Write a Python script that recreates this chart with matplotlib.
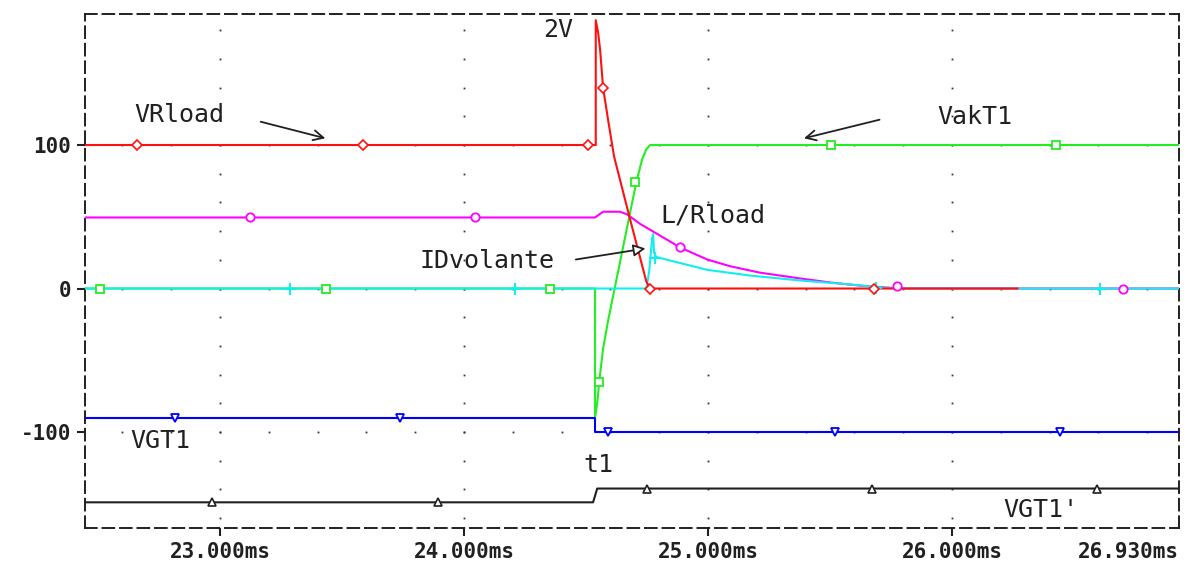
import numpy as np
import matplotlib
matplotlib.use('Agg')
import matplotlib.pyplot as plt

# ---- data (tempo em ms, valores em V / A) ----
x_lim = [22.447, 26.93]
y_lim = [-166.9, 191.3]

# VRload (vermelho)
vr_t = [22.447, 24.540, 24.540, 24.550, 24.558, 24.570, 24.591, 24.615, 24.681, 24.747, 24.763, 26.268]
vr_v = [100, 100, 187, 178, 166, 140, 117, 92, 48, 5, 0, 0]
vr_mk_t = [22.660, 23.586, 24.509, 24.570, 24.763, 25.681]
vr_mk_v = [100, 100, 100, 140, 0, 0]

# VakT1 (verde)
vak_t = [22.447, 24.537, 24.537, 24.546, 24.554, 24.570, 24.591, 24.706, 24.730, 24.747, 24.763, 26.93]
vak_v = [0, 0, -90, -80, -65, -42, -22, 74, 90, 97, 100, 100]
vak_mk_t = [22.508, 23.435, 24.353, 24.554, 24.702, 25.505, 26.424]
vak_mk_v = [0, 0, 0, -65, 74, 100, 100]

# L/Rload (magenta)
lr_t = [22.447, 24.537, 24.570, 24.640, 24.669, 24.722, 24.775, 24.886, 24.997, 25.091, 25.214, 25.378, 25.501, 25.624, 25.788, 26.93]
lr_v = [49.5, 49.5, 53.5, 53.5, 51.6, 45, 39.7, 28.6, 20.2, 15.5, 11, 7, 4.2, 2.0, 0, 0]
lr_mk_t = [23.123, 24.046, 24.886, 25.776, 26.702]
lr_mk_v = [49.5, 49.5, 28.6, 1.5, 0]

# IDvolante (ciano)
id_t = [22.447, 24.747, 24.759, 24.771, 24.775, 24.779, 24.788, 24.833, 24.997, 25.173, 25.378, 25.583, 25.706, 25.768, 26.93]
id_v = [0, 0, 12, 35, 38, 25, 22, 20, 13, 9, 5.6, 2.8, 0.8, 0, 0]
id_mk_t = [23.287, 24.209, 24.783, 25.690, 26.608]
id_mk_v = [0, 0, 21.6, 0.5, 0]

# VGT1 (azul)
vgt_t = [22.447, 24.537, 24.537, 26.93]
vgt_v = [-90.2, -90.2, -100, -100]
vgt_mk_t = [22.815, 23.738, 24.591, 25.522, 26.444]
vgt_mk_v = [-90.2, -90.2, -100, -100, -100]

# VGT1' (preto)
vgt2_t = [22.447, 24.529, 24.546, 26.93]
vgt2_v = [-149, -149, -139.4, -139.4]
vgt2_mk_t = [22.967, 23.894, 24.751, 25.673, 26.596]
vgt2_mk_v = [-149, -149, -139.4, -139.4, -139.4]

x_ticks = [23, 24, 25, 26]
x_tick_labels = ['23.000ms', '24.000ms', '25.000ms', '26.000ms']
y_ticks = [100, 0, -100]
y_tick_labels = ['100', '0', '-100']

RED = '#ff1010'
GREEN = '#22ee22'
MAGENTA = '#ff00ff'
CYAN = '#11eeee'
BLUE = '#0000ff'
BLACK = '#202020'

fig = plt.figure(figsize=(11.86, 5.65), dpi=100)
ax = fig.add_axes([85 / 1186, 37 / 565, 1094 / 1186, 514 / 565])
ax.set_xlim(x_lim)
ax.set_ylim(y_lim)

# grade pontilhada (pontos)
for t in x_ticks:
    gy = np.arange(-160, 181, 20)
    ax.plot([t] * len(gy), gy, ls='none', marker='s', ms=1.3, color='#333333', mew=0, zorder=1)
for v in y_ticks:
    gx = np.arange(22.6, 26.85, 0.2)
    ax.plot(gx, [v] * len(gx), ls='none', marker='s', ms=1.3, color='#333333', mew=0, zorder=1)

lw = 1.5
ms = 6
# curvas (ordem de desenho igual ao original)
ax.plot(lr_t, lr_v, color=MAGENTA, lw=lw, zorder=3)
ax.plot(vak_t, vak_v, color=GREEN, lw=lw, zorder=3)
ax.plot(id_t, id_v, color=CYAN, lw=lw, zorder=3)
ax.plot(vr_t, vr_v, color=RED, lw=lw, zorder=3)
ax.plot(vgt_t, vgt_v, color=BLUE, lw=lw, zorder=3)
ax.plot(vgt2_t, vgt2_v, color=BLACK, lw=lw, zorder=3)

# marcadores
ax.plot(lr_mk_t, lr_mk_v, ls='none', marker='o', ms=ms, mfc='white', mec=MAGENTA, mew=1.3, zorder=4)
ax.plot(vak_mk_t, vak_mk_v, ls='none', marker='s', ms=ms, mfc='white', mec=GREEN, mew=1.3, zorder=4)
ax.plot(id_mk_t, id_mk_v, ls='none', marker='+', ms=8, mec=CYAN, mew=1.5, zorder=4)
ax.plot(vr_mk_t, vr_mk_v, ls='none', marker='D', ms=5, mfc='white', mec=RED, mew=1.2, zorder=4)
ax.plot(vgt_mk_t, vgt_mk_v, ls='none', marker='v', ms=ms, mfc='white', mec=BLUE, mew=1.3, zorder=4)
ax.plot(vgt2_mk_t, vgt2_mk_v, ls='none', marker='^', ms=ms, mfc='white', mec=BLACK, mew=1.2, zorder=4)

# moldura tracejada
for s in ax.spines.values():
    s.set_linestyle((0, (6, 3)))
    s.set_linewidth(1.4)
    s.set_color(BLACK)

mono = 'DejaVu Sans Mono'
ax.set_xticks(x_ticks)
ax.set_xticklabels(x_tick_labels, fontfamily=mono, fontweight='bold', fontsize=15)
ax.set_yticks(y_ticks)
ax.set_yticklabels(y_tick_labels, fontfamily=mono, fontweight='bold', fontsize=15)
ax.tick_params(direction='out', length=6, width=1.5, color=BLACK, labelcolor=BLACK, pad=4)
ax.text(x_lim[1], y_lim[0] - 10, '26.930ms', ha='right', va='top', fontfamily=mono,
        fontweight='bold', fontsize=15, color=BLACK)

# rotulos
lab = dict(fontfamily=mono, fontsize=18, color=BLACK, va='baseline', ha='left')
ax.text(24.324, 175, '2V', **lab)
ax.text(22.651, 116, 'VRload', **lab)
ax.text(25.940, 114.6, 'VakT1', **lab)
ax.text(24.804, 46.3, 'L/Rload', **lab)
ax.text(23.816, 14.3, 'IDvolante', **lab)
ax.text(22.631, -111, 'VGT1', **lab)
ax.text(24.488, -127.9, 't1', **lab)
ax.text(26.21, -159, "VGT1'", **lab)

# setas
ax.annotate('', xy=(23.443, 104.2), xytext=(23.156, 116.7),
            arrowprops=dict(arrowstyle='->', color=BLACK, lw=1.3, mutation_scale=18))
ax.annotate('', xy=(25.382, 104.2), xytext=(25.714, 118.1),
            arrowprops=dict(arrowstyle='->', color=BLACK, lw=1.3, mutation_scale=18))
ax.annotate('', xy=(24.755, 28.2), xytext=(24.447, 19.9),
            arrowprops=dict(arrowstyle='-|>', fc='white', ec=BLACK, lw=1.3, mutation_scale=18),
            zorder=5)

plt.savefig('out.png', dpi=100)
